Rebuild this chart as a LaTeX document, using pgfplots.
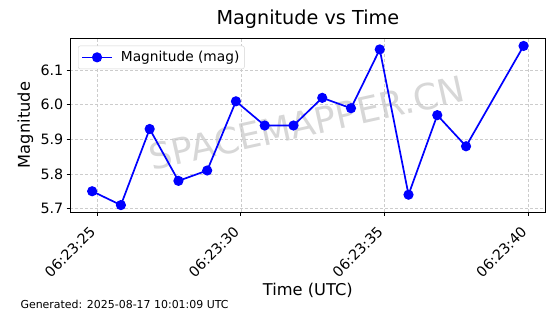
\documentclass[border=0pt]{standalone}
\usepackage{pgfplots}
\pgfplotsset{compat=1.18}
\usepackage{fontspec}
\setmainfont{DejaVu Sans}
\begin{document}
\begin{tikzpicture}[x=1bp,y=1bp]
\useasboundingbox (0,0) rectangle (560,314);
\begin{axis}[
  at={(70bp,102bp)}, anchor=south west,
  scale only axis, width=475.7bp, height=174bp,
  xmin=24.06, xmax=40.6, ymin=5.690, ymax=6.193,
  xtick={25,30,35,40},
  xticklabels={06:23:25,06:23:30,06:23:35,06:23:40},
  ytick={5.7,5.8,5.9,6.0,6.1},
  yticklabel style={/pgf/number format/fixed, /pgf/number format/fixed zerofill, /pgf/number format/precision=1, inner sep=2bp, xshift=-1bp},
  /pgf/number format/assume math mode=true,
  ticklabel style={font=\fontsize{14.3}{16}\selectfont},
  xticklabel style={rotate=45, anchor=north east, inner sep=1bp, xshift=-11.7bp, yshift=0bp},
  tick align=outside, major tick length=3.5bp,
  tick style={black, line width=0.8bp},
  xtick pos=bottom, ytick pos=left,
  grid=major, grid style={dash pattern=on 3bp off 2bp, gray!40, line width=0.6bp},
  axis line style={line width=0.9bp},
  title={Magnitude vs Time},
  title style={font=\fontsize{19.3}{22}\selectfont, at={(axis description cs:0.5,1)}, anchor=base, yshift=7.3bp},
  xlabel={Time (UTC)}, ylabel={Magnitude},
  label style={font=\fontsize{16.3}{18}\selectfont},
  xlabel style={at={(axis description cs:0.5,0)}, anchor=base, yshift=-83bp},
  ylabel style={at={(axis description cs:-0.0841,0.5)}, anchor=base},
  legend style={font=\fontsize{13.8}{16}\selectfont, draw=gray!35, fill=white, rounded corners=2bp, inner xsep=3bp, inner ysep=3.5bp, column sep=6bp, at={(axis description cs:0,1)}, anchor=north west, xshift=8bp, yshift=-7.7bp},
  legend image code/.code={\draw[mark repeat=2,mark phase=2,#1,line width=1.7bp] plot coordinates {(0bp,0bp) (15bp,0bp) (30bp,0bp)};},
  legend cell align=left,
]
\node[rotate=12.5, text=gray!45, opacity=0.7, font=\fontsize{36}{40}\selectfont] at (axis cs:32.3,5.947) {SPACEMAPPER.CN};
\addplot[blue, line width=1.7bp, mark=*, mark size=4.2bp, mark options={fill=blue}] coordinates {
(24.83,5.75) (25.83,5.71) (26.83,5.93) (27.83,5.78) (28.83,5.81)
(29.83,6.01) (30.83,5.94) (31.83,5.94) (32.83,6.02) (33.83,5.99)
(34.83,6.16) (35.83,5.74) (36.83,5.97) (37.83,5.88) (39.83,6.17)
};
\addlegendentry{Magnitude (mag)}
\end{axis}
\node[anchor=base west, font=\fontsize{11}{13}\selectfont] at (17,6) {Generated: 2025-08-17 10:01:09 UTC};
\end{tikzpicture}
\end{document}
